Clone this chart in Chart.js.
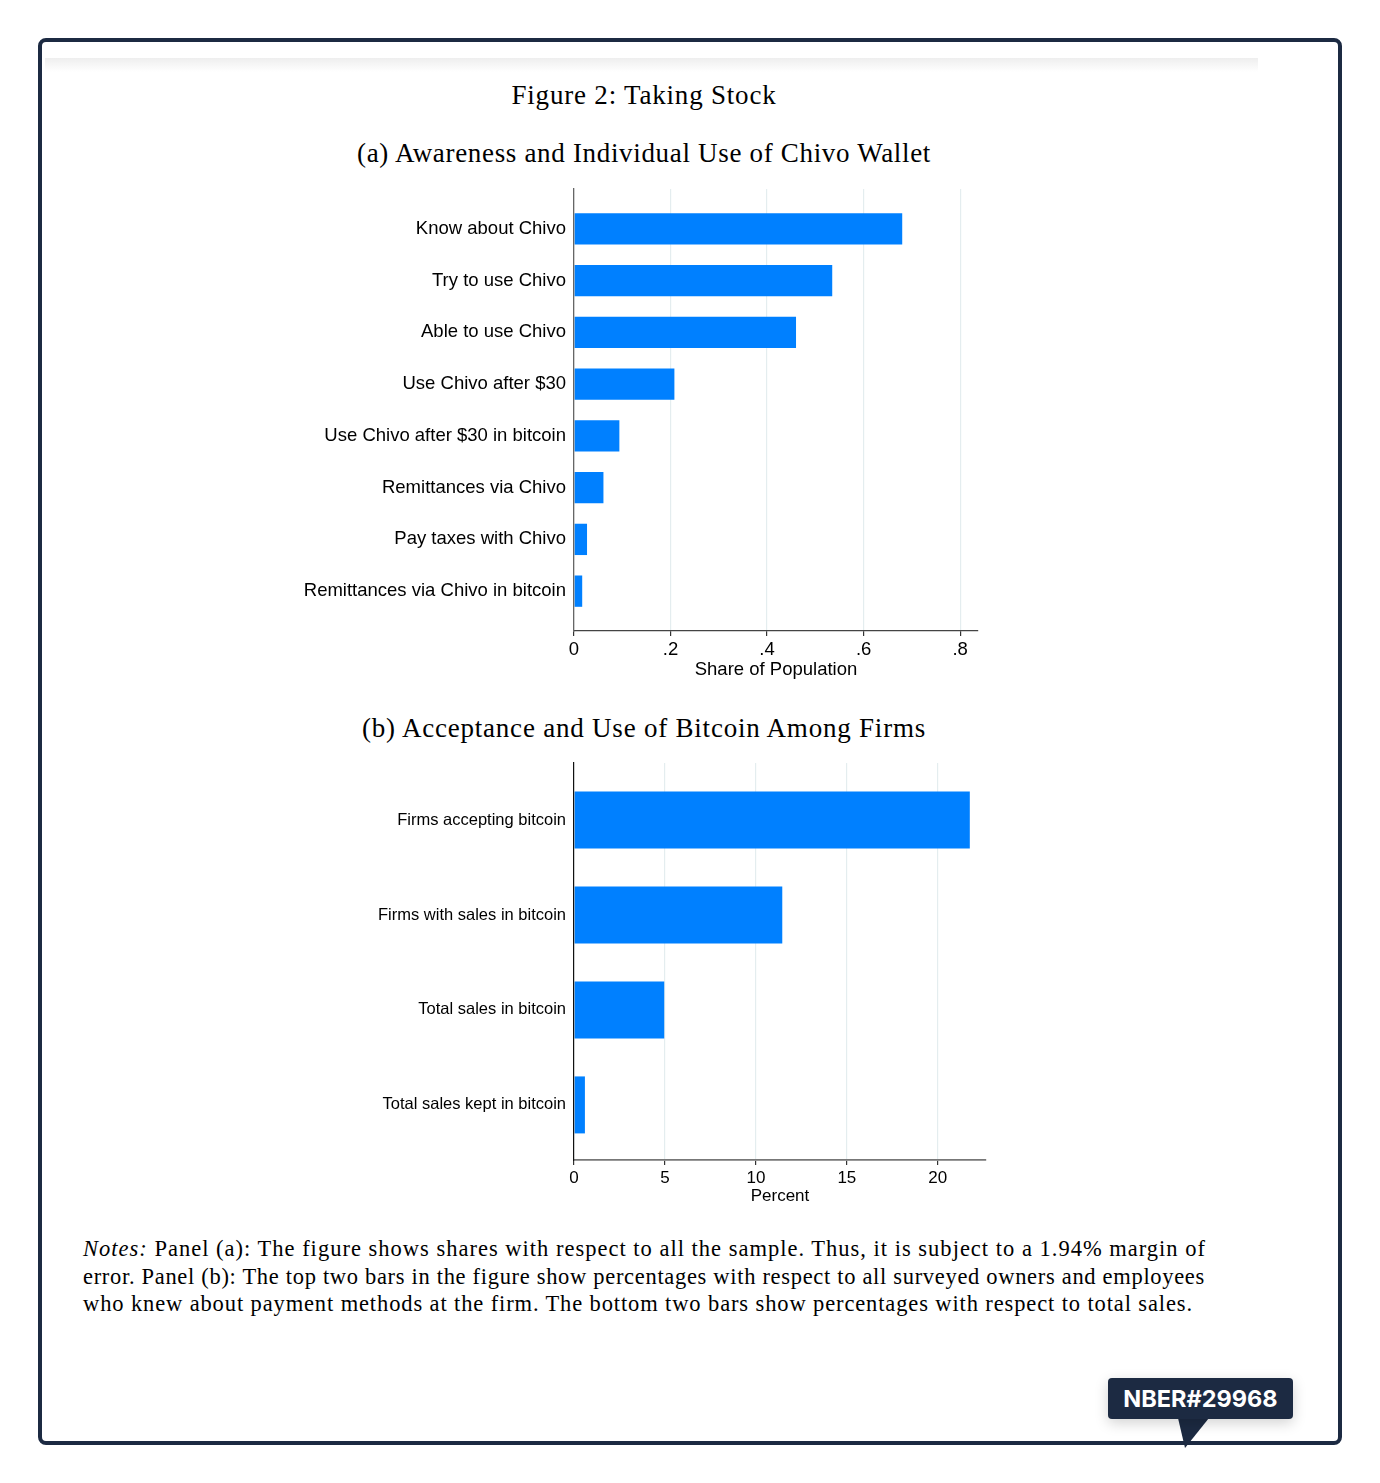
<!DOCTYPE html>
<html>
<head>
<meta charset="utf-8">
<script src="https://cdn.jsdelivr.net/npm/chart.js@4"></script>
<style>
    body { margin: 0; background: #fff; width: 1380px; height: 1483px; position: relative; overflow: hidden; }
    .frame { position: absolute; left: 38px; top: 38px; width: 1296px; height: 1399px; border: 4px solid #1c2a42; border-radius: 8px; }
    .band { position: absolute; left: 45px; top: 58px; width: 1213px; height: 14px; background: linear-gradient(#eeeeee, #ffffff); }
    .ttl { position: absolute; left: 0; width: 1288px; text-align: center; font-family: "Liberation Serif", serif; color: #000; white-space: nowrap; }
    .ttl span, .note span { display: inline-block; white-space: nowrap; }
    .note { position: absolute; left: 83px; font-family: "Liberation Serif", serif; font-size: 22.5px; line-height: 26px; color: #000; }
    canvas { position: absolute; }
    .badge { position: absolute; left: 1108px; top: 1378px; width: 185px; height: 41px; background: #1c2a42; border-radius: 4px;
             box-shadow: 0 4px 14px rgba(0,0,0,0.18); color: #fff; font: 700 23.5px Inter, sans-serif; line-height: 41px; text-align: center; }
    .tail { position: absolute; left: 1178px; top: 1418px; width: 0; height: 0;
            border-left: 7px solid transparent; border-right: 24px solid transparent; border-top: 30px solid #1c2a42; }
</style>
</head>
<body>
<div class="frame"></div>
<div class="band"></div>

<div class="ttl" style="top:80px;font-size:27px;line-height:30px;"><span data-w="265">Figure 2: Taking Stock</span></div>
<div class="ttl" style="top:138px;font-size:27px;line-height:30px;"><span data-w="574">(a) Awareness and Individual Use of Chivo Wallet</span></div>
<div class="ttl" style="top:713px;font-size:27px;line-height:30px;"><span data-w="564">(b) Acceptance and Use of Bitcoin Among Firms</span></div>

<canvas id="chart-a" width="760" height="501" style="left:250px;top:180px;"></canvas>
<canvas id="chart-b" width="760" height="457" style="left:250px;top:750px;"></canvas>

<div class="note" style="top:1236px;"><span data-w="1123"><i>Notes:</i> Panel (a): The figure shows shares with respect to all the sample. Thus, it is subject to a 1.94% margin of</span></div>
<div class="note" style="top:1264px;"><span data-w="1122">error. Panel (b): The top two bars in the figure show percentages with respect to all surveyed owners and employees</span></div>
<div class="note" style="top:1291px;"><span data-w="1110">who knew about payment methods at the firm. The bottom two bars show percentages with respect to total sales.</span></div>

<div class="tail"></div>
<div class="badge">NBER#29968</div>

<script>
// panel (a)
const labelsA = [
    'Know about Chivo',
    'Try to use Chivo',
    'Able to use Chivo',
    'Use Chivo after $30',
    'Use Chivo after $30 in bitcoin',
    'Remittances via Chivo',
    'Pay taxes with Chivo',
    'Remittances via Chivo in bitcoin'
];
const shareA = [0.680, 0.535, 0.460, 0.208, 0.094, 0.061, 0.027, 0.017];
const ticksA = [0, 0.2, 0.4, 0.6, 0.8];
const tickLabelsA = ['0', '.2', '.4', '.6', '.8'];

// panel (b)
const labelsB = [
    'Firms accepting bitcoin',
    'Firms with sales in bitcoin',
    'Total sales in bitcoin',
    'Total sales kept in bitcoin'
];
const percentB = [21.76, 11.45, 4.96, 0.60];
const ticksB = [0, 5, 10, 15, 20];
const tickLabelsB = ['0', '5', '10', '15', '20'];

const BLUE = '#0080ff';
const GRID = '#e4edef';

function makeChart(id, o) {
    const ctx = document.getElementById(id).getContext('2d');
    return new Chart(ctx, {
        type: 'bar',
        data: {
            datasets: [{
                data: o.values.map((v, i) => ({ x: v, y: i })),
                backgroundColor: BLUE,
                borderWidth: 0,
                categoryPercentage: o.barFrac,
                barPercentage: 1
            }]
        },
        options: {
            indexAxis: 'y',
            responsive: false,
            animation: false,
            devicePixelRatio: 1,
            layout: { padding: { top: o.padTop, right: o.padRight, left: 0, bottom: 0 } },
            plugins: { legend: { display: false }, tooltip: { enabled: false } },
            scales: {
                y: {
                    type: 'linear',
                    bounds: 'data',
                    offset: false,
                    reverse: true,
                    min: o.yMin,
                    max: o.yMax,
                    afterBuildTicks: s => { s.ticks = o.labels.map((_, i) => ({ value: i })); },
                    afterFit: s => { s.width = 324; s.paddingTop = 0; s.paddingBottom = 0; },
                    grid: { display: false, drawTicks: false, offset: false },
                    border: { display: true, color: o.yBorder, width: o.yBorderW, z: 1 },
                    ticks: {
                        padding: 8,
                        color: '#000',
                        font: { family: 'Liberation Sans, Arial', size: o.labelSize },
                        callback: v => o.labels[v]
                    }
                },
                x: {
                    type: 'linear',
                    bounds: 'data',
                    min: 0,
                    max: o.xMax,
                    afterBuildTicks: s => { s.ticks = o.ticks.map(v => ({ value: v })); },
                    afterFit: s => { s.height = o.xHeight; s.paddingLeft = 0; s.paddingRight = 0; },
                    grid: { color: GRID, lineWidth: 1.2, tickColor: '#333', tickLength: 5 },
                    border: { display: true, color: o.xBorder, width: o.xBorderW },
                    ticks: {
                        padding: 3,
                        color: '#000',
                        maxRotation: 0,
                        font: { family: 'Liberation Sans, Arial', size: o.tickSize },
                        callback: v => o.tickLabels[o.ticks.indexOf(v)] ?? ''
                    },
                    title: {
                        display: true,
                        text: o.xTitle,
                        color: '#000',
                        padding: 0,
                        font: { family: 'Liberation Sans, Arial', size: o.tickSize }
                    }
                }
            }
        }
    });
}

makeChart('chart-a', {
    labels: labelsA, values: shareA, ticks: ticksA, tickLabels: tickLabelsA,
    xTitle: 'Share of Population', xMax: 0.837, yMin: -0.77, yMax: 7.77, barFrac: 0.605,
    padTop: 9, padRight: 32, xHeight: 50, labelSize: 18.5, tickSize: 18.5,
    yBorder: '#666', yBorderW: 1.3, xBorder: '#444', xBorderW: 1.3
});

makeChart('chart-b', {
    labels: labelsB, values: percentB, ticks: ticksB, tickLabels: tickLabelsB,
    xTitle: 'Percent', xMax: 22.65, yMin: -0.6, yMax: 3.58, barFrac: 0.6,
    padTop: 13, padRight: 24, xHeight: 47, labelSize: 16.5, tickSize: 17,
    yBorder: '#111', yBorderW: 1.2, xBorder: '#777', xBorderW: 1.7
});

// stretch the serif texts to the widths they have in the figure
document.querySelectorAll('[data-w]').forEach(el => {
    const target = +el.dataset.w;
    const natural = el.getBoundingClientRect().width;
    const n = el.textContent.length;
    el.style.letterSpacing = ((target - natural) / n) + 'px';
});
</script>
</body>
</html>
